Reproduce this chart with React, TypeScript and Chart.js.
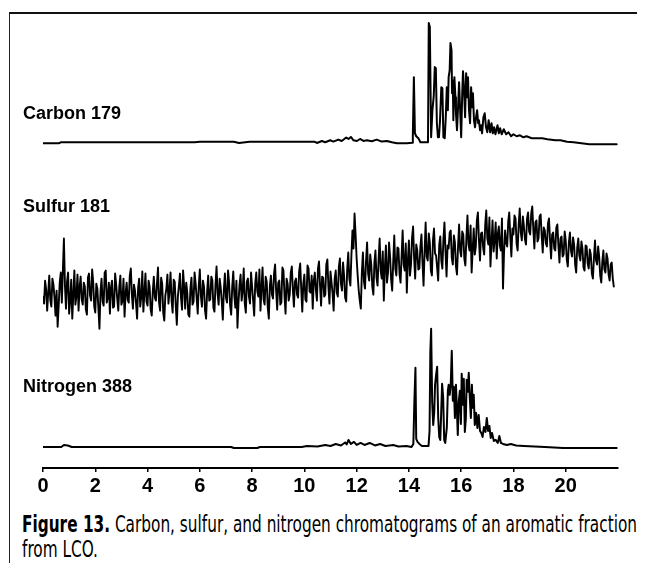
import React, { useEffect, useRef } from 'react';
import { Chart, registerables } from 'chart.js';

Chart.register(...registerables);

// ---------- data (retention time in min, detector response in arbitrary units) ----------
const traceLabels = ['Carbon 179', 'Sulfur 181', 'Nitrogen 388'];
const xTickValues = [0, 2, 4, 6, 8, 10, 12, 14, 16, 18, 20];

const carbonPoints: [number, number][] = [
  [0, 0], [0.6, 0], [0.68, 1], [5.8, 1], [6.0, 1.5], [7.3, 1.5], [7.5, 0.3], [7.9, 1.5], [10.4, 1.5],
  [10.48, 0.3], [10.67, 2.3], [10.8, 1], [10.99, 3], [11.11, 1.7], [11.3, 3.7], [11.43, 2.3], [11.6, 5.7],
  [11.69, 4.3], [11.78, 6.3], [11.88, 3], [12.01, 2.3], [12.13, 4.3], [12.26, 2.3], [12.39, 3], [12.58, 2],
  [12.77, 3.7], [12.96, 1.7], [13.16, 2.3], [13.35, 1], [13.54, 0], [13.92, 0],
  [14.12, 0.5], [14.15, 8], [14.19, 66], [14.23, 10], [14.28, 7], [14.37, 4.7], [14.44, 1], [14.73, 1],
  [14.76, 120], [14.8, 116], [14.85, 6], [14.9, 33], [14.95, 47], [14.99, 76], [15.03, 75], [15.07, 20],
  [15.11, 6], [15.15, 6], [15.19, 23], [15.24, 56], [15.28, 55], [15.32, 6], [15.37, 5], [15.41, 26],
  [15.45, 56], [15.49, 33], [15.52, 66], [15.56, 73], [15.59, 100], [15.63, 93], [15.65, 50], [15.68, 63],
  [15.7, 23], [15.74, 66], [15.78, 46], [15.8, 30], [15.84, 13], [15.88, 36], [15.92, 61], [15.96, 33],
  [16.0, 6], [16.04, 50], [16.07, 72], [16.11, 53], [16.15, 26], [16.19, 70], [16.23, 46], [16.26, 66],
  [16.3, 33], [16.34, 20], [16.38, 56], [16.42, 36], [16.45, 50], [16.49, 23], [16.53, 16], [16.57, 26],
  [16.61, 33], [16.65, 20], [16.68, 23], [16.72, 13], [16.76, 18], [16.8, 10], [16.85, 26], [16.9, 30],
  [16.95, 16], [17.0, 11], [17.05, 23], [17.11, 11], [17.16, 20], [17.21, 10], [17.26, 16], [17.31, 9],
  [17.39, 18], [17.44, 10], [17.49, 15], [17.55, 9], [17.63, 14], [17.72, 9], [17.81, 11], [17.91, 7],
  [18.0, 9], [18.12, 7], [18.25, 8], [18.38, 6], [18.5, 7], [18.7, 5], [18.89, 5], [19.1, 5], [19.3, 4],
  [19.6, 3], [19.8, 3], [20.05, 1.5], [20.3, 1], [20.6, 0], [20.9, -1], [21.95, -1],
];

const nitrogenPoints: [number, number][] = [
  [0, 0], [0.7, 0], [0.8, 2], [0.95, 1.5], [1.1, 0], [7.2, 0], [7.3, -1], [8.2, -1], [8.3, 0], [9.9, 0],
  [10.1, 1], [10.5, 0.5], [10.8, 2], [11.0, 1], [11.2, 3], [11.4, 1.5], [11.56, 4.5], [11.62, 2.5],
  [11.69, 7], [11.78, 3], [11.9, 5], [12.0, 2], [12.15, 4], [12.3, 2], [12.5, 4], [12.7, 1.5], [12.9, 3],
  [13.1, 1], [13.4, 2], [13.6, 0.5], [13.9, 1], [14.1, 0],
  [14.17, 3], [14.21, 46], [14.25, 79], [14.28, 8], [14.33, 5], [14.4, 3], [14.5, 1], [14.75, 1],
  [14.79, 16], [14.82, 95], [14.85, 118], [14.89, 45], [14.93, 22], [14.97, 35], [15.0, 62], [15.04, 72],
  [15.08, 80], [15.12, 30], [15.16, 10], [15.2, 7], [15.23, 30], [15.27, 63], [15.31, 50], [15.35, 7],
  [15.39, 4], [15.45, 19], [15.49, 56], [15.52, 62], [15.56, 52], [15.6, 62], [15.64, 96], [15.68, 46],
  [15.72, 60], [15.76, 29], [15.8, 62], [15.83, 42], [15.87, 12], [15.91, 46], [15.95, 56], [15.99, 23],
  [16.02, 73], [16.06, 42], [16.1, 68], [16.14, 15], [16.18, 29], [16.21, 67], [16.25, 55], [16.29, 74],
  [16.33, 49], [16.37, 29], [16.41, 62], [16.44, 39], [16.48, 52], [16.52, 22], [16.57, 34], [16.62, 19],
  [16.67, 32], [16.72, 16], [16.77, 14], [16.82, 10], [16.87, 20], [16.93, 15], [16.98, 29], [17.03, 16],
  [17.08, 21], [17.13, 9], [17.18, 14], [17.25, 6], [17.32, 7], [17.4, 4], [17.46, 11], [17.52, 4],
  [17.6, 3], [17.75, 2], [17.9, 3], [18.1, 1.5], [18.4, 1], [18.8, 0.5], [19.2, 0], [19.9, -1], [21.95, -1],
];

// sulfur trace sampled every 0.04 min from t = 0
const sulfurStart = 0;
const sulfurStep = 0.04;
const sulfurSignal: number[] = [
  34, 27, 50, 41, 20, 38, 55, 30, 24, 52, 46, 33, 15, 40, 4, 25, 48, 58, 28, 60,
  92, 45, 22, 49, 58, 17, 30, 51, 12, 36, 60, 26, 35, 56, 20, 43, 54, 31, 26, 48,
  44, 21, 16, 53, 57, 35, 30, 61, 49, 24, 18, 47, 42, 22, 2, 39, 52, 29, 25, 58,
  60, 28, 33, 48, 17, 43, 50, 23, 24, 57, 46, 32, 20, 44, 55, 26, 30, 52, 14, 37,
  48, 31, 28, 55, 62, 36, 22, 46, 40, 27, 12, 43, 52, 24, 34, 59, 19, 38, 57, 29,
  25, 50, 44, 21, 15, 39, 54, 33, 30, 47, 63, 28, 20, 53, 47, 18, 10, 35, 42, 56,
  27, 40, 58, 30, 18, 51, 49, 25, 6, 34, 45, 57, 33, 21, 60, 44, 22, 48, 38, 16,
  14, 42, 53, 26, 29, 58, 47, 32, 17, 45, 61, 35, 24, 50, 44, 20, 12, 39, 55, 30,
  31, 54, 50, 23, 19, 46, 64, 37, 26, 52, 43, 29, 11, 41, 57, 33, 28, 60, 48, 25,
  16, 44, 59, 35, 23, 50, 3, 28, 46, 56, 30, 40, 62, 27, 18, 49, 52, 34, 27, 58,
  44, 30, 15, 47, 58, 39, 34, 61, 20, 42, 63, 31, 26, 54, 49, 23, 12, 45, 55, 36,
  32, 57, 66, 40, 21, 48, 50, 26, 28, 63, 60, 35, 17, 52, 47, 30, 36, 58, 64, 41,
  24, 49, 52, 36, 33, 59, 67, 42, 19, 47, 56, 31, 29, 65, 62, 39, 38, 55, 22, 50,
  58, 41, 30, 62, 69, 45, 25, 54, 53, 34, 36, 66, 71, 44, 27, 59, 48, 37, 20, 52,
  60, 38, 34, 64, 72, 47, 40, 68, 55, 33, 29, 62, 78, 52, 45, 75, 100, 82, 117, 96,
  72, 55, 40, 30, 22, 58, 78, 49, 42, 70, 88, 57, 50, 76, 66, 44, 36, 68, 80, 53,
  45, 71, 92, 60, 52, 79, 30, 63, 85, 48, 58, 88, 74, 51, 40, 69, 95, 62, 55, 83,
  82, 57, 48, 74, 100, 66, 60, 87, 38, 70, 90, 55, 66, 93, 104, 72, 52, 86, 80, 61,
  62, 84, 96, 68, 45, 79, 108, 74, 70, 97, 88, 60, 55, 90, 102, 77, 75, 63, 50, 86,
  94, 70, 62, 91, 108, 79, 54, 85, 82, 98, 100, 73, 66, 95, 88, 64, 56, 84, 106, 80,
  74, 99, 96, 72, 65, 93, 115, 86, 80, 105, 58, 81, 102, 76, 84, 110, 118, 90, 70, 97,
  98, 83, 76, 106, 120, 92, 86, 113, 64, 88, 110, 79, 90, 108, 72, 96, 104, 85, 80, 112,
  42, 78, 100, 88, 84, 109, 118, 93, 74, 102, 96, 115, 112, 87, 80, 106, 122, 98, 90, 114,
  104, 91, 86, 112, 118, 99, 96, 117, 124, 101, 82, 108, 110, 89, 92, 114, 116, 95, 78, 103,
  100, 87, 84, 107, 112, 90, 72, 96, 98, 82, 80, 103, 106, 85, 68, 92, 94, 74, 76, 99,
  90, 71, 64, 88, 98, 80, 74, 93, 86, 66, 58, 83, 92, 75, 70, 89, 82, 63, 60, 85,
  84, 67, 62, 81, 76, 57, 52, 73, 90, 70, 66, 84, 74, 55, 48, 69, 80, 61, 58, 77,
  72, 56, 50, 66, 68, 52, 44,
];

const captionBold = 'Figure 13.';
const captionRest = ' Carbon, sulfur, and nitrogen chromatograms of an aromatic fraction';
const captionLine2 = 'from LCO.';

// ---------- layout ----------
const CANVAS_LEFT = 2; // local to container (page x = 8 + value)
const CANVAS_TOP = 6;
const CANVAS_W = 635;
const CANVAS_H = 486;
const LABEL_FONT = "'Liberation Sans', Arial, Helvetica, sans-serif";
const CAPTION_FONT = "'Liberation Sans Narrow', 'DejaVu Sans Condensed', 'Open Sans', sans-serif";
const CAPTION_WIDTH = 615;

export default function App() {
  const canvasRef = useRef<HTMLCanvasElement | null>(null);
  const line1Ref = useRef<HTMLSpanElement | null>(null);
  const line2Ref = useRef<HTMLSpanElement | null>(null);

  useEffect(() => {
    const l1 = line1Ref.current;
    const l2 = line2Ref.current;
    if (l1 && l2) {
      const w = l1.getBoundingClientRect().width;
      if (w > 0) {
        const s = CAPTION_WIDTH / w;
        l1.style.transform = `scaleX(${s})`;
        l2.style.transform = `scaleX(${s})`;
      }
    }
    if (!canvasRef.current) return;
    const line = (pts: { x: number; y: number }[], axis: string, w: number) => ({
      data: pts,
      yAxisID: axis,
      showLine: true,
      borderColor: '#000',
      backgroundColor: '#000',
      borderWidth: w,
      borderJoinStyle: 'round',
      borderCapStyle: 'round',
      pointRadius: 0,
      tension: 0,
      fill: false,
    });
    const chart = new Chart(canvasRef.current, {
      type: 'scatter',
      data: {
        datasets: [
          line(carbonPoints.map(([x, y]) => ({ x, y })), 'yC', 2),
          line(sulfurSignal.map((y, i) => ({ x: sulfurStart + i * sulfurStep, y })), 'yS', 1.9),
          line(nitrogenPoints.map(([x, y]) => ({ x, y })), 'yN', 2),
        ] as any,
      },
      options: {
        animation: false,
        responsive: false,
        events: [],
        layout: { padding: { left: 33, right: 27, top: 0, bottom: 0 } },
        plugins: { legend: { display: false }, tooltip: { enabled: false } },
        scales: {
          x: {
            type: 'linear',
            min: 0,
            max: 22,
            afterBuildTicks: (scale: any) => {
              scale.ticks = xTickValues.map((v) => ({ value: v }));
            },
            ticks: {
              autoSkip: false,
              maxRotation: 0,
              color: '#000',
              padding: 2,
              font: { family: LABEL_FONT, size: 20, weight: 'bold' },
            },
            grid: { drawOnChartArea: false, drawTicks: true, tickLength: 4, color: '#000', lineWidth: 1.5 },
            border: { display: true, color: '#000', width: 2 },
          },
          yC: { display: false, min: -324, max: 129 },
          yS: { display: false, min: -137, max: 316 },
          yN: { display: false, min: -21, max: 432 },
        },
      } as any,
    });
    return () => chart.destroy();
  }, []);

  const labelTops = [96, 189, 369];

  return (
    <div style={{ position: 'relative', width: 637, height: 555 }}>
      <style>{'body{overflow:hidden}'}</style>
      <div
        style={{
          position: 'absolute',
          left: 1,
          top: 4,
          width: 636,
          height: 570,
          borderTop: '2px solid #111',
          borderLeft: '1.5px solid #222',
          boxSizing: 'border-box',
        }}
      />
      <canvas
        ref={canvasRef}
        width={CANVAS_W}
        height={CANVAS_H}
        style={{ position: 'absolute', left: CANVAS_LEFT, top: CANVAS_TOP, width: CANVAS_W, height: CANVAS_H }}
      />
      {traceLabels.map((t, i) => (
        <div
          key={t}
          style={{
            position: 'absolute',
            left: 15,
            top: labelTops[i],
            fontFamily: LABEL_FONT,
            fontWeight: 'bold',
            fontSize: 18,
            lineHeight: '18px',
            color: '#000',
            whiteSpace: 'nowrap',
          }}
        >
          {t}
        </div>
      ))}
      <div
        style={{
          position: 'absolute',
          left: 14,
          top: 504,
          fontFamily: CAPTION_FONT,
          fontSize: 23,
          lineHeight: '25px',
          color: '#000',
          whiteSpace: 'nowrap',
        }}
      >
        <span ref={line1Ref} style={{ display: 'inline-block', transformOrigin: 'left center' }}>
          <b>{captionBold}</b>
          {captionRest}
        </span>
        <br />
        <span ref={line2Ref} style={{ display: 'inline-block', transformOrigin: 'left center' }}>
          {captionLine2}
        </span>
      </div>
    </div>
  );
}
